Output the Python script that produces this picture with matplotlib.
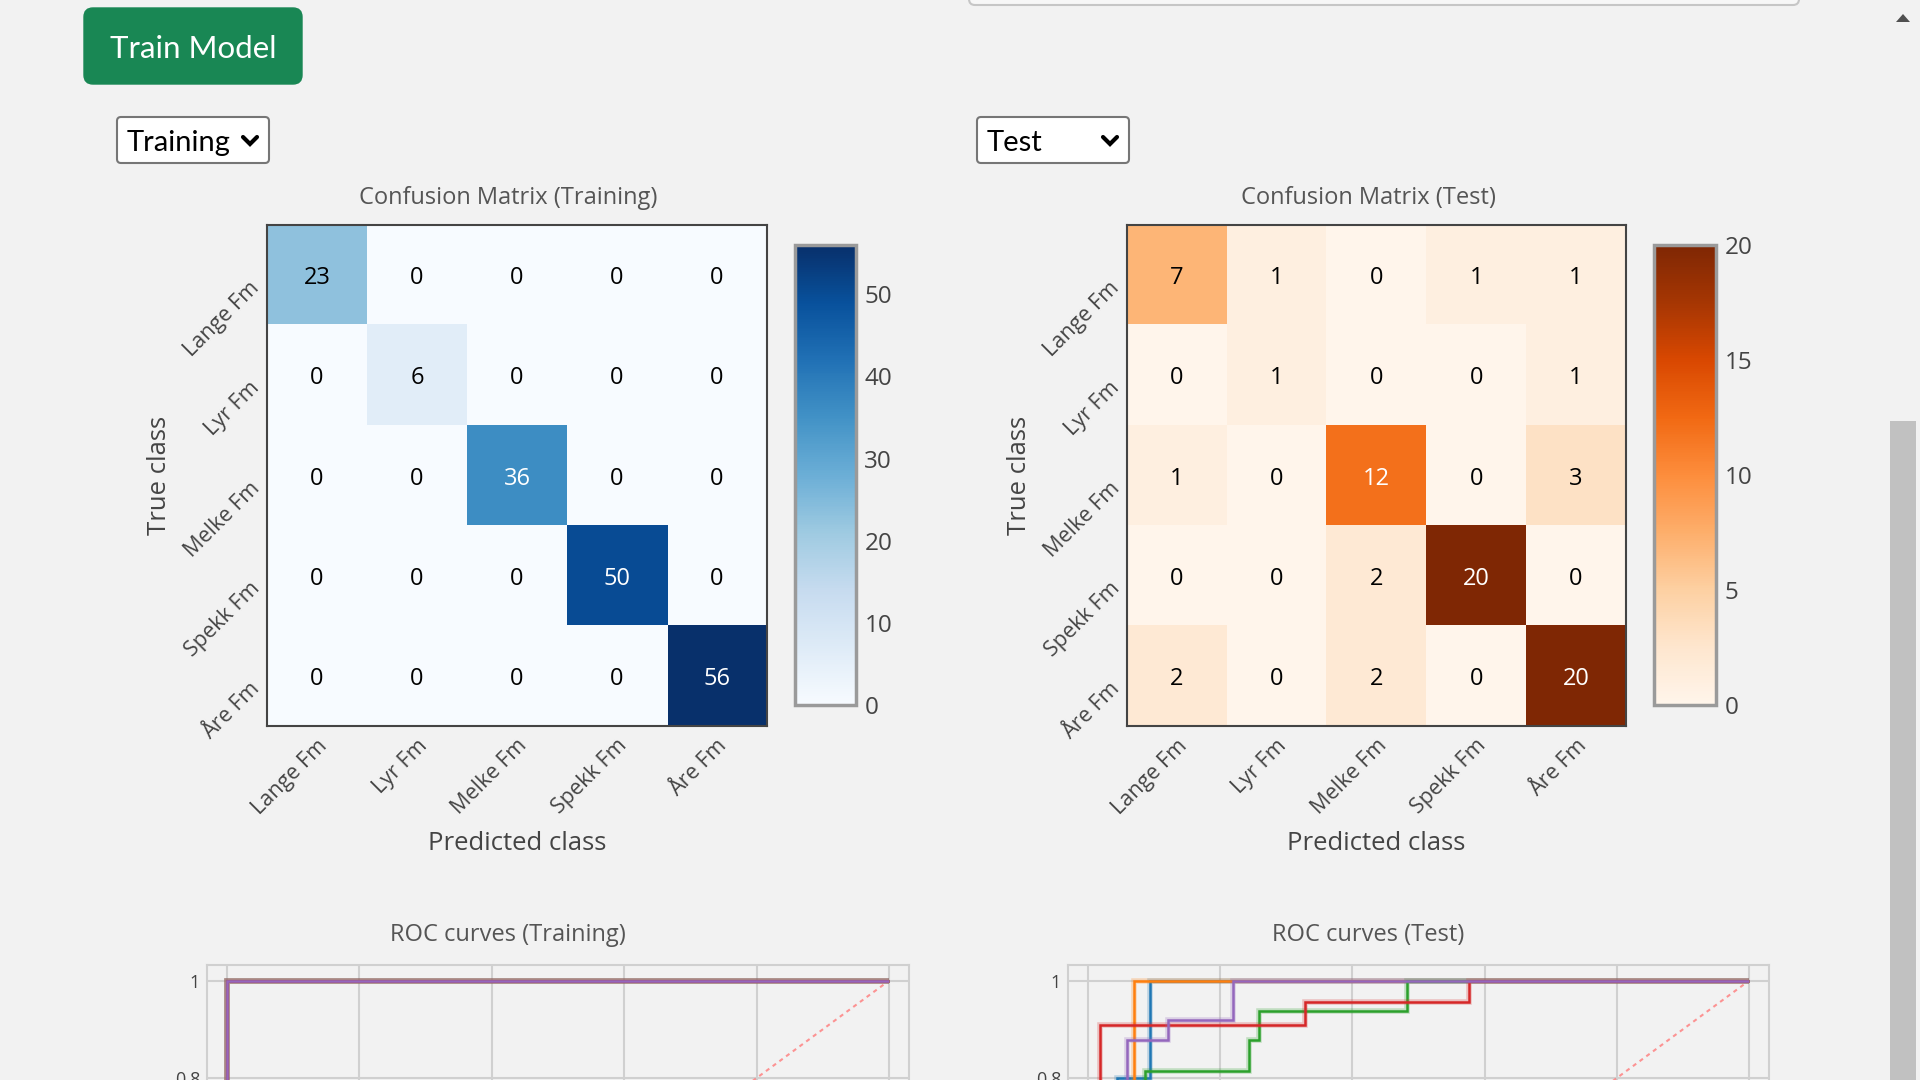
import numpy as np
import matplotlib
matplotlib.use("Agg")
import matplotlib.pyplot as plt
import matplotlib.transforms as mtransforms
from matplotlib.patches import FancyBboxPatch, Rectangle, Polygon

plt.rcParams['font.family'] = ['Open Sans', 'DejaVu Sans']

# data
classes = ["Lange Fm", "Lyr Fm", "Melke Fm", "Spekk Fm", "Åre Fm"]
cm_train = [[23, 0, 0, 0, 0],
            [0, 6, 0, 0, 0],
            [0, 0, 36, 0, 0],
            [0, 0, 0, 50, 0],
            [0, 0, 0, 0, 56]]
cm_test = [[7, 1, 0, 1, 1],
           [0, 1, 0, 0, 1],
           [1, 0, 12, 0, 3],
           [0, 0, 2, 20, 0],
           [2, 0, 2, 0, 20]]
cbar_ticks_train = [0, 10, 20, 30, 40, 50]
cbar_ticks_test = [0, 5, 10, 15, 20]

# ROC curves (training) - every class perfect
roc_train_fpr = [0.0, 0.0, 1.0]
roc_train_tpr = [0.0, 1.0, 1.0]

# ROC curves (test), step vertices
fpr_lange = [0, 0.044, 0.044, 0.094, 0.094, 1.0]
tpr_lange = [0, 0, 0.80, 0.80, 1.0, 1.0]
fpr_lyr = [0, 0.070, 0.070, 1.0]
tpr_lyr = [0, 0, 1.0, 1.0]
fpr_melke = [0, 0.086, 0.086, 0.243, 0.243, 0.259, 0.259, 0.483, 0.483, 1.0]
tpr_melke = [0, 0, 0.8135, 0.8135, 0.877, 0.877, 0.9385, 0.9385, 1.0, 1.0]
fpr_spekk = [0, 0.019, 0.019, 0.329, 0.329, 0.576, 0.576, 1.0]
tpr_spekk = [0, 0, 0.909, 0.909, 0.956, 0.956, 1.0, 1.0]
fpr_are = [0, 0.059, 0.059, 0.1205, 0.1205, 0.220, 0.220, 1.0]
tpr_are = [0, 0, 0.877, 0.877, 0.918, 0.918, 1.0, 1.0]

roc_colors = ['#1f77b4', '#ff7f0e', '#2ca02c', '#d62728', '#9467bd']

W, H = 1920, 1080
BG = '#f2f2f2'
TXT = '#444444'
fig = plt.figure(figsize=(W / 100, H / 100), dpi=100, facecolor=BG)


def box(l, t, r, b):
    return [l / W, 1 - b / H, (r - l) / W, (b - t) / H]


def px(x, y):
    return x / W, 1 - y / H


# page widgets drawn in pixel space
ui = fig.add_axes([0, 0, 1, 1], zorder=0)
ui.set_xlim(0, W)
ui.set_ylim(H, 0)
ui.axis('off')

# input box cut at the top
ui.add_patch(FancyBboxPatch((969, -30), 830, 35, boxstyle="round,pad=0,rounding_size=6",
                            fc='#f7f7f7', ec='#c6c6c6', lw=1.5))
# Train Model button
ui.add_patch(FancyBboxPatch((84, 8), 218, 76, boxstyle="round,pad=0,rounding_size=9",
                            fc='#198754', ec='#198754', lw=1))
ui.text(193, 49, "Train Model", color='white', fontsize=22.5, family=['Lato', 'DejaVu Sans'],
        ha='center', va='center')

# dropdowns
for x0, label in [(117, "Training"), (977, "Test")]:
    ui.add_patch(FancyBboxPatch((x0, 117), 152, 46, boxstyle="round,pad=0,rounding_size=4",
                                fc='white', ec='#767676', lw=1.5))
    ui.text(x0 + 10, 143, label, color='black', fontsize=21, family=['Lato', 'DejaVu Sans'],
            ha='left', va='center')
    cx = x0 + 133
    ui.plot([cx - 7, cx, cx + 7], [137, 144, 137], color='black', lw=3,
            solid_capstyle='round', solid_joinstyle='miter')

# scrollbar
ui.add_patch(Rectangle((1890, 421), 26, 700, fc='#c1c1c1', ec='none'))
ui.add_patch(Polygon([[1896, 22], [1910, 22], [1903, 14]], closed=True, fc='#505050', ec='none'))


def confusion(ax_box, cax_box, cm, cmap, ticks, ylab_x):
    cm = np.array(cm)
    vmax = cm.max()
    ax = fig.add_axes(box(*ax_box))
    im = ax.imshow(cm, cmap=cmap, vmin=0, vmax=vmax, aspect='auto')
    for i in range(cm.shape[0]):
        for j in range(cm.shape[1]):
            v = cm[i, j]
            ax.text(j, i + 0.03, str(v), ha='center', va='center', fontsize=17,
                    color='white' if v > vmax / 2 else 'black')
    ax.set_xticks(range(len(classes)))
    ax.set_yticks(range(len(classes)))
    ax.set_xticklabels(classes, rotation=45, ha='right', va='center', rotation_mode='anchor',
                       fontsize=15.5, color=TXT)
    ax.set_yticklabels(classes, rotation=45, ha='right', va='center', rotation_mode='anchor',
                       fontsize=15.5, color=TXT)
    ax.tick_params(length=0, pad=9)
    off_x = mtransforms.ScaledTranslation(7 / 100, -4 / 100, fig.dpi_scale_trans)
    off_y = mtransforms.ScaledTranslation(2 / 100, -10 / 100, fig.dpi_scale_trans)
    for lab in ax.get_xticklabels():
        lab.set_transform(lab.get_transform() + off_x)
    for lab in ax.get_yticklabels():
        lab.set_transform(lab.get_transform() + off_y)
    for s in ax.spines.values():
        s.set_color(TXT)
        s.set_linewidth(1.5)

    cax = fig.add_axes(box(*cax_box))
    cb = fig.colorbar(im, cax=cax, ticks=ticks)
    cb.outline.set_edgecolor('#9a9a9a')
    cb.outline.set_linewidth(2.5)
    cax.tick_params(length=0, pad=6, labelsize=17.5, labelcolor=TXT)

    cxp = (ax_box[0] + ax_box[2]) / 2
    fig.text(*px(cxp, 843), "Predicted class", ha='center', va='center', fontsize=18.5,
             color=TXT)
    fig.text(*px(ylab_x, (ax_box[1] + ax_box[3]) / 2), "True class", ha='center', va='center',
             rotation=90, fontsize=18.5, color=TXT)
    return ax


confusion((267, 225, 767, 726), (795, 245, 856, 705), cm_train, 'Blues', cbar_ticks_train, 160)
confusion((1127, 225, 1626, 726), (1654, 245, 1716, 705), cm_test, 'Oranges', cbar_ticks_test,
          1020)
fig.text(*px(508, 198), "Confusion Matrix (Training)", ha='center', va='center', fontsize=17,
         color='#555555')
fig.text(*px(1368, 198), "Confusion Matrix (Test)", ha='center', va='center', fontsize=17,
         color='#555555')


def roc(ax_box, curves, title_x, title):
    ax = fig.add_axes(box(*ax_box))
    ax.set_facecolor(BG)
    ax.set_xlim(-0.03, 1.03)
    ax.set_ylim(-0.03, 1.032)
    ax.set_xticks(np.arange(0, 1.01, 0.2))
    ax.set_yticks(np.arange(0, 1.01, 0.2))
    # only the labels that fall inside the page
    ax.set_yticklabels(['', '', '', '', '0.8', '1'])
    ax.tick_params(labelbottom=False)
    ax.grid(True, color='#d0d0d0', lw=1.5)
    ax.set_axisbelow(True)
    for s in ax.spines.values():
        s.set_color('#d0d0d0')
        s.set_linewidth(1.5)
    ax.tick_params(length=0, pad=5, labelsize=13, labelcolor=TXT)
    ax.plot([0, 1], [0, 1], color='#ff7b7b', lw=1.5, ls=(0, (2, 2)), alpha=0.8)
    for (f, t), c in zip(curves, roc_colors):
        ax.plot(f, t, color=c, lw=4, alpha=0.25, solid_joinstyle='miter', solid_capstyle='butt')
        ax.plot(f, t, color=c, lw=1.8, solid_joinstyle='miter', solid_capstyle='butt')
    fig.text(*px(title_x, 935), title, ha='center', va='center', fontsize=17, color='#555555')


roc((207, 965, 909, 1482), [(roc_train_fpr, roc_train_tpr)] * 5, 508, "ROC curves (Training)")
roc((1068, 965, 1769, 1482),
    [(fpr_lange, tpr_lange), (fpr_lyr, tpr_lyr), (fpr_melke, tpr_melke),
     (fpr_spekk, tpr_spekk), (fpr_are, tpr_are)], 1368, "ROC curves (Test)")

fig.savefig("out.png", dpi=100, facecolor=BG)
